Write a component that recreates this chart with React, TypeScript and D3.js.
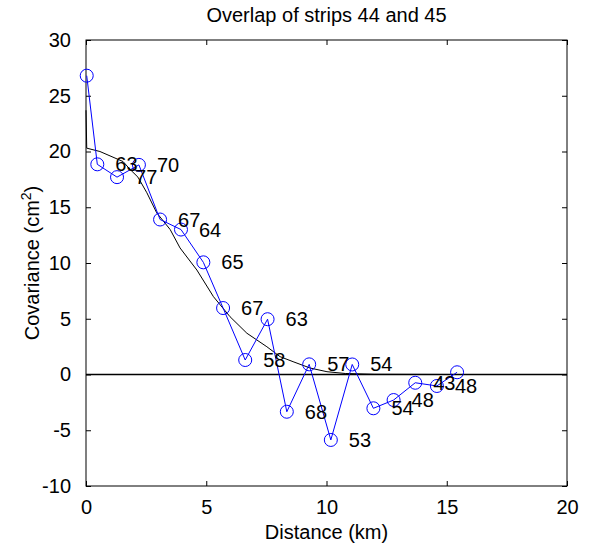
import React, { useEffect, useRef } from 'react';
import * as d3 from 'd3';

// empirical covariance per distance bin
const distance = [0.03, 0.47, 1.29, 2.2, 3.08, 3.95, 4.88, 5.7, 6.62, 7.55, 8.35, 9.28, 10.18, 11.07, 11.95, 12.79, 13.69, 14.59, 15.43];
const covariance = [26.8, 18.85, 17.7, 18.8, 13.9, 13.0, 10.06, 5.96, 1.3, 4.96, -3.34, 0.91, -5.87, 0.9, -3.03, -2.29, -0.74, -1.03, 0.2];
const pairCounts = ['', '63', '77', '70', '67', '64', '65', '67', '58', '63', '68', '57', '53', '54', '54', '48', '43', '48', ''];

// fitted model (black curve)
const modelDistance = [0, 0.03, 0.58, 1.54, 1.83, 2.16, 2.53, 2.94, 3.5, 3.91, 4.61, 5.3, 5.99, 6.69, 7.52, 8.07, 8.61, 9.32, 10.02, 10.78, 12.0, 15.43];
const modelCovariance = [23.7, 20.3, 20.0, 19.1, 18.4, 17.7, 16.3, 14.5, 13.0, 11.35, 9.37, 6.98, 5.18, 3.7, 2.49, 1.6, 1.15, 0.58, 0.25, 0.09, 0.02, 0.0];

const xTicks = [0, 5, 10, 15, 20];
const yTicks = [-10, -5, 0, 5, 10, 15, 20, 25, 30];

const title = 'Overlap of strips 44 and 45';
const xLabel = 'Distance (km)';

const CovariancePlot = () => {
    const svgRef = useRef<SVGSVGElement | null>(null);

    useEffect(() => {
        const width = 603;
        const height = 548;
        const margin = { top: 40, right: 36, bottom: 62, left: 86 };
        const innerWidth = width - margin.left - margin.right;
        const innerHeight = height - margin.top - margin.bottom;
        const font = '"Liberation Sans", Arial, sans-serif';

        const svg = d3.select(svgRef.current);
        svg.selectAll('*').remove();
        svg.attr('width', width).attr('height', height);

        svg.append('rect').attr('width', width).attr('height', height).attr('fill', 'white');

        const xScale = d3.scaleLinear().domain([0, 20]).range([0, innerWidth]);
        const yScale = d3.scaleLinear().domain([-10, 30]).range([innerHeight, 0]);

        const g = svg.append('g')
            .attr('transform', `translate(${margin.left},${margin.top})`);

        // ticks pointing inward on all four sides
        const fmt = (d: d3.NumberValue) => String(d);
        g.append('g')
            .attr('transform', `translate(0,${innerHeight})`)
            .call(d3.axisBottom(xScale).tickValues(xTicks).tickFormat(fmt).tickSizeInner(-5).tickSizeOuter(0).tickPadding(14))
            .call(a => a.select('.domain').remove())
            .selectAll('text')
            .attr('font-size', 20)
            .attr('font-family', font)
            .attr('fill', '#000');
        g.append('g')
            .call(d3.axisTop(xScale).tickValues(xTicks).tickFormat(() => '').tickSizeInner(-5).tickSizeOuter(0))
            .call(a => a.select('.domain').remove());
        g.append('g')
            .call(d3.axisLeft(yScale).tickValues(yTicks).tickFormat(fmt).tickSizeInner(-5).tickSizeOuter(0).tickPadding(15))
            .call(a => a.select('.domain').remove())
            .selectAll('text')
            .attr('font-size', 20)
            .attr('font-family', font)
            .attr('fill', '#000');
        g.append('g')
            .attr('transform', `translate(${innerWidth},0)`)
            .call(d3.axisRight(yScale).tickValues(yTicks).tickFormat(() => '').tickSizeInner(-5).tickSizeOuter(0))
            .call(a => a.select('.domain').remove());

        g.append('rect')
            .attr('width', innerWidth)
            .attr('height', innerHeight)
            .attr('fill', 'none')
            .attr('stroke', 'black')
            .attr('stroke-width', 1);

        // zero line
        g.append('line')
            .attr('x1', 0)
            .attr('x2', innerWidth)
            .attr('y1', yScale(0))
            .attr('y2', yScale(0))
            .attr('stroke', 'black')
            .attr('stroke-width', 1.5);

        const line = d3.line<[number, number]>()
            .x(d => xScale(d[0]))
            .y(d => yScale(d[1]));

        g.append('path')
            .datum(modelDistance.map((d, i) => [d, modelCovariance[i]] as [number, number]))
            .attr('fill', 'none')
            .attr('stroke', 'black')
            .attr('stroke-width', 1)
            .attr('d', line);

        const pts = distance.map((d, i) => [d, covariance[i]] as [number, number]);

        g.append('path')
            .datum(pts)
            .attr('fill', 'none')
            .attr('stroke', '#0000ff')
            .attr('stroke-width', 1)
            .attr('d', line);

        g.selectAll('circle.pt')
            .data(pts)
            .enter()
            .append('circle')
            .attr('class', 'pt')
            .attr('cx', d => xScale(d[0]))
            .attr('cy', d => yScale(d[1]))
            .attr('r', 6.5)
            .attr('fill', 'none')
            .attr('stroke', '#0000ff')
            .attr('stroke-width', 1);

        // number of pairs next to each point
        g.selectAll('text.count')
            .data(pts)
            .enter()
            .append('text')
            .attr('class', 'count')
            .attr('x', d => xScale(d[0]) + 18)
            .attr('y', d => yScale(d[1]) + 7)
            .attr('font-size', 20)
            .attr('font-family', font)
            .attr('fill', '#000')
            .text((d, i) => pairCounts[i]);

        svg.append('text')
            .attr('x', margin.left + innerWidth / 2)
            .attr('y', 22)
            .attr('text-anchor', 'middle')
            .attr('font-size', 20)
            .attr('font-family', font)
            .text(title);

        svg.append('text')
            .attr('x', margin.left + innerWidth / 2)
            .attr('y', 539)
            .attr('text-anchor', 'middle')
            .attr('font-size', 20)
            .attr('font-family', font)
            .text(xLabel);

        const yl = svg.append('text')
            .attr('transform', `translate(39,${margin.top + innerHeight / 2}) rotate(-90)`)
            .attr('text-anchor', 'middle')
            .attr('font-size', 20)
            .attr('font-family', font);
        yl.append('tspan').text('Covariance (cm');
        yl.append('tspan').attr('font-size', 14).attr('dy', -8).text('2');
        yl.append('tspan').attr('dy', 8).text(')');
    }, []);

    return <svg ref={svgRef} style={{ position: 'absolute', left: 0, top: 0, display: 'block' }}></svg>;
};

export default function App() {
    return <CovariancePlot />;
}
